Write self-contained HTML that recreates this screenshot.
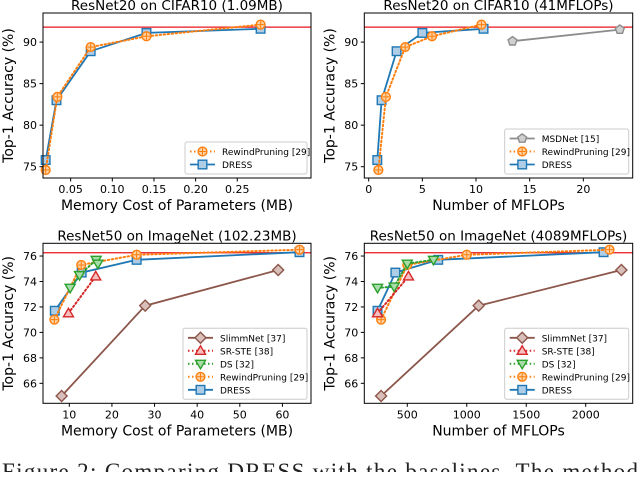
<!DOCTYPE html>
<html><head><meta charset="utf-8"><style>
body{margin:0;background:#fff;width:640px;height:472px;overflow:hidden}
svg{font-family:"DejaVu Sans","Liberation Sans",sans-serif}
</style></head><body>
<svg id="fig" width="640" height="472"></svg>
<script>
// ---- data ----
const tlDressX=[0.02,0.033,0.074,0.141,0.278];
const tlDressY=[75.8,83.0,88.9,91.1,91.6];
const tlRewX=[0.02,0.034,0.074,0.141,0.278];
const tlRewY=[74.6,83.4,89.4,90.7,92.1];
const trDressX=[0.8,1.2,2.6,5.0,10.7];
const trDressY=[75.8,83.0,88.9,91.1,91.6];
const trRewX=[0.9,1.6,3.4,5.9,10.5];
const trRewY=[74.6,83.4,89.4,90.7,92.1];
const trMsdX=[13.4,23.4];
const trMsdY=[90.1,91.5];
const blSlimX=[8.2,27.8,59];
const blSlimY=[65.0,72.1,74.9];
const blSrX=[9.8,16.2];
const blSrY=[71.5,74.4];
const blDsX=[10.2,12.4,16.3,16.7];
const blDsY=[73.5,74.5,75.7,75.4];
const blRewX=[6.5,12.8,25.8,64];
const blRewY=[71.0,75.3,76.1,76.5];
const blDressX=[6.6,12.9,25.8,64];
const blDressY=[71.7,74.7,75.7,76.3];
const brSlimX=[280,1100,2300];
const brSlimY=[65.0,72.1,74.9];
const brSrX=[250,510];
const brSrY=[71.5,74.4];
const brDsX=[250,390,500,720];
const brDsY=[73.5,73.6,75.4,75.7];
const brRewX=[280,500,1000,2200];
const brRewY=[71.0,75.3,76.1,76.5];
const brDressX=[250,400,760,2150];
const brDressY=[71.7,74.7,75.7,76.3];
const topYTicks=[75,80,85,90];
const botYTicks=[66,68,70,72,74,76];
const tlXTicks=["0.05","0.10","0.15","0.20","0.25"];
const trXTicks=[0,5,10,15,20];
const blXTicks=[10,20,30,40,50,60];
const brXTicks=[500,1000,1500,2000];

const NS="http://www.w3.org/2000/svg";
const svg=document.getElementById('fig');
function mk(tag,attrs,parent){const e=document.createElementNS(NS,tag);for(const k in attrs)e.setAttribute(k,attrs[k]);(parent||svg).appendChild(e);return e;}
const C={dress:'#1f77b4',rew:'#ff7f0e',ds:'#2ca02c',sr:'#d62728',slim:'#8c564b',msd:'#8c8c8c'};
function marker(g,type,x,y,col){
  let e;
  if(type==='sq'){e=mk('rect',{x:x-4.3,y:y-4.3,width:8.6,height:8.6,fill:'#aecde6',stroke:col,'stroke-width':1.4},g);}
  else if(type==='ci'){e=mk('circle',{cx:x,cy:y,r:4.4,fill:'#ffd0a0',stroke:col,'stroke-width':1.4},g);
    mk('path',{d:`M${x-3.5} ${y}H${x+3.5}M${x} ${y-3.5}V${y+3.5}`,stroke:col,'stroke-width':1},g);}
  else if(type==='di'){e=mk('path',{d:`M${x} ${y-5.5}L${x+5.5} ${y}L${x} ${y+5.5}L${x-5.5} ${y}Z`,fill:'#d8bfb9',stroke:col,'stroke-width':1.4},g);}
  else if(type==='tu'){e=mk('path',{d:`M${x} ${y-5}L${x+5} ${y+3.5}L${x-5} ${y+3.5}Z`,fill:'#f6c0c0',stroke:col,'stroke-width':1.4},g);}
  else if(type==='td'){e=mk('path',{d:`M${x} ${y+5}L${x+5} ${y-3.5}L${x-5} ${y-3.5}Z`,fill:'#a8dca8',stroke:col,'stroke-width':1.4},g);}
  else if(type==='pe'){let p='';for(let i=0;i<5;i++){const a=-Math.PI/2+i*2*Math.PI/5;p+=(i?'L':'M')+(x+4.6*Math.cos(a)).toFixed(1)+' '+(y+4.6*Math.sin(a)).toFixed(1);}e=mk('path',{d:p+'Z',fill:'#d0d0d0',stroke:col,'stroke-width':1.4},g);}
  return e;
}
function panel(o){
  const g=mk('g',{});
  
  
  const sx=v=>o.L+(v-o.x0)/(o.x1-o.x0)*(o.R-o.L);
  const sy=v=>o.B-(v-o.y0)/(o.y1-o.y0)*(o.B-o.T);
  const t=mk('text',{x:(o.L+o.R)/2,y:o.T-3,'text-anchor':'middle','font-size':13.5},g);t.textContent=o.title;
  
  const rl=mk('line',{x1:o.L,x2:o.R,y1:sy(o.red),y2:sy(o.red),stroke:'#e8141c','stroke-width':1.3},g);
  
  o.series.forEach(s=>{
    const sg=mk('g',{},g);
    
    
    const pts=s.x.map((v,i)=>sx(v).toFixed(1)+','+sy(s.y[i]).toFixed(1)).join(' ');
    mk('polyline',{points:pts,fill:'none',stroke:s.col,'stroke-width':s.dot?2:1.8,'stroke-dasharray':s.dot?'1.5,2.5':'none','stroke-linecap':'round'},sg);
    s.x.forEach((v,i)=>{const m=marker(sg,s.m,sx(v),sy(s.y[i]),s.col);
      
      });
  });
  mk('rect',{x:o.L,y:o.T,width:o.R-o.L,height:o.B-o.T,fill:'none',stroke:'#000','stroke-width':1},g);
  o.yt.forEach(v=>{const y=sy(v);mk('line',{x1:o.L-3.5,x2:o.L,y1:y,y2:y,stroke:'#000'},g);
    const tt=mk('text',{x:o.L-6,y:y+4,'text-anchor':'end','font-size':11},g);tt.textContent=v;
    });
  o.xt.forEach(v=>{const x=sx(+v);mk('line',{x1:x,x2:x,y1:o.B,y2:o.B+3.5,stroke:'#000'},g);
    const tt=mk('text',{x:x,y:o.B+15,'text-anchor':'middle','font-size':11},g);tt.textContent=v;
    });
  const xl=mk('text',{x:(o.L+o.R)/2,y:o.B+32,'text-anchor':'middle','font-size':14},g);xl.textContent=o.xlab;
  
  const cy=(o.T+o.B)/2;
  const yl=mk('text',{x:o.L-30,y:cy,'text-anchor':'middle','font-size':14,transform:`rotate(-90 ${o.L-30} ${cy})`},g);yl.textContent='Top-1 Accuracy (%)';
  
  const lg=mk('g',{},g);
  
  
  const leg=o.series.slice().reverse();
  const lh=13, lw=o.lw, lx=o.R-lw-4, ly=o.B-4-leg.length*lh-6;
  mk('rect',{x:lx,y:ly,width:lw,height:leg.length*lh+6,fill:'#fff',stroke:'#ccc',rx:2},lg);
  leg.forEach((s,i)=>{const y=ly+3+lh*i+lh/2;
    const eg=mk('g',{},lg);
    
    
    mk('line',{x1:lx+5,x2:lx+30,y1:y,y2:y,stroke:s.col,'stroke-width':s.dot?2:1.8,'stroke-dasharray':s.dot?'1.5,2.5':'none'},eg);
    marker(eg,s.m,lx+17.5,y,s.col);
    const tx=mk('text',{x:lx+37,y:y+3.5,'font-size':9},eg);tx.textContent=s.label;});
}
panel({name:'panel-resnet20-memory',title:'ResNet20 on CIFAR10 (1.09MB)',L:43,R:311,T:13,B:178,x0:0.0168,x1:0.3385,y0:73.64,y1:93.5,red:91.8,
 yt:topYTicks,xt:tlXTicks,xlab:'Memory Cost of Parameters (MB)',lw:122,
 series:[{key:'dress',label:'DRESS',x:tlDressX,y:tlDressY,col:C.dress,m:'sq'},{key:'rewind',label:'RewindPruning [29]',x:tlRewX,y:tlRewY,col:C.rew,m:'ci',dot:1}]});
panel({name:'panel-resnet20-flops',title:'ResNet20 on CIFAR10 (41MFLOPs)',L:364.3,R:632.7,T:13,B:178,x0:-0.41,x1:24.6,y0:73.64,y1:93.5,red:91.8,
 yt:topYTicks,xt:trXTicks,xlab:'Number of MFLOPs',lw:124,
 series:[{key:'dress',label:'DRESS',x:trDressX,y:trDressY,col:C.dress,m:'sq'},{key:'rewind',label:'RewindPruning [29]',x:trRewX,y:trRewY,col:C.rew,m:'ci',dot:1},{key:'msdnet',label:'MSDNet [15]',x:trMsdX,y:trMsdY,col:C.msd,m:'pe'}]});
panel({name:'panel-resnet50-memory',title:'ResNet50 on ImageNet (102.23MB)',L:43,R:311,T:243.3,B:403.3,x0:3.83,x1:66.7,y0:64.43,y1:77.0,red:76.26,
 yt:botYTicks,xt:blXTicks,xlab:'Memory Cost of Parameters (MB)',lw:124,
 series:[{key:'dress',label:'DRESS',x:blDressX,y:blDressY,col:C.dress,m:'sq'},{key:'rewind',label:'RewindPruning [29]',x:blRewX,y:blRewY,col:C.rew,m:'ci',dot:1},{key:'ds',label:'DS [32]',x:blDsX,y:blDsY,col:C.ds,m:'td',dot:1},{key:'srste',label:'SR-STE [38]',x:blSrX,y:blSrY,col:C.sr,m:'tu',dot:1},{key:'slimmnet',label:'SlimmNet [37]',x:blSlimX,y:blSlimY,col:C.slim,m:'di'}]});
panel({name:'panel-resnet50-flops',title:'ResNet50 on ImageNet (4089MFLOPs)',L:364.3,R:632.7,T:243.3,B:403.3,x0:138.7,x1:2395,y0:64.43,y1:77.0,red:76.26,
 yt:botYTicks,xt:brXTicks,xlab:'Number of MFLOPs',lw:124,
 series:[{key:'dress',label:'DRESS',x:brDressX,y:brDressY,col:C.dress,m:'sq'},{key:'rewind',label:'RewindPruning [29]',x:brRewX,y:brRewY,col:C.rew,m:'ci',dot:1},{key:'ds',label:'DS [32]',x:brDsX,y:brDsY,col:C.ds,m:'td',dot:1},{key:'srste',label:'SR-STE [38]',x:brSrX,y:brSrY,col:C.sr,m:'tu',dot:1},{key:'slimmnet',label:'SlimmNet [37]',x:brSlimX,y:brSlimY,col:C.slim,m:'di'}]});
const cap=mk('text',{x:2,y:479,'font-size':23,'font-family':'Liberation Serif, serif',fill:'#222',textLength:636,lengthAdjust:'spacing'});
cap.textContent='Figure 2: Comparing DRESS with the baselines. The method';


</script>
</body></html>
